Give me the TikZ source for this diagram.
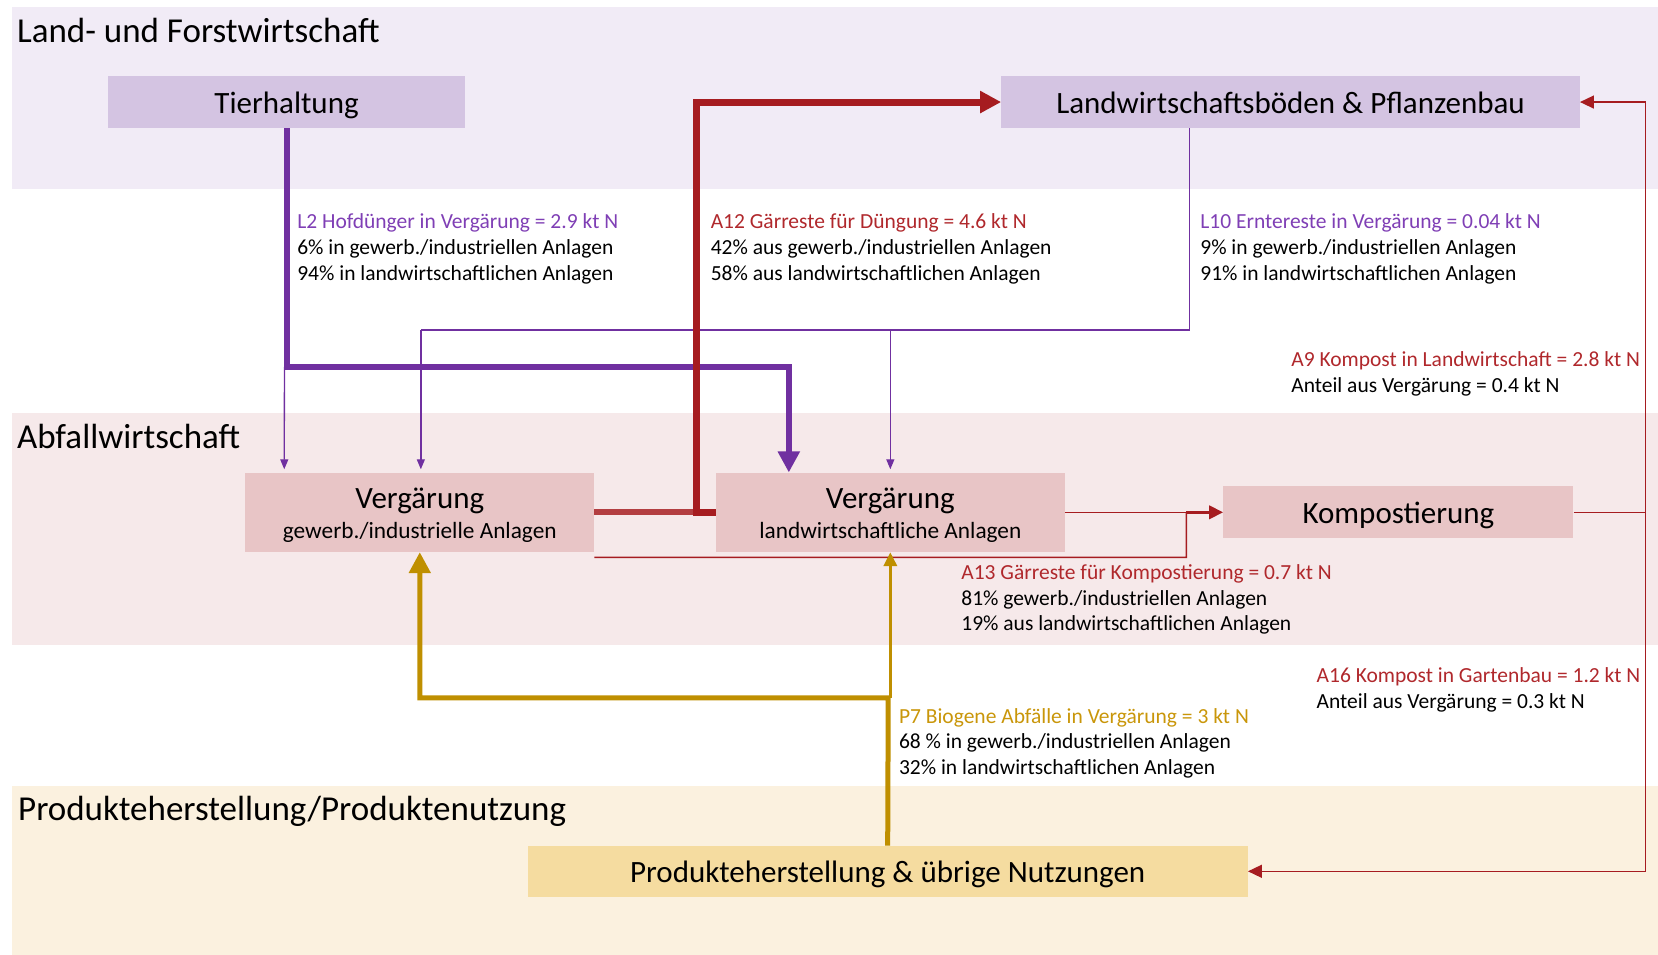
\documentclass[tikz,border=0pt]{standalone}
\usepackage{fontspec}
\setmainfont{Carlito}
\usetikzlibrary{arrows.meta}
\definecolor{bandA}{HTML}{F1EBF6}
\definecolor{bandB}{HTML}{F6E9EA}
\definecolor{bandC}{HTML}{FBF1DF}
\definecolor{boxA}{HTML}{D4C4E2}
\definecolor{boxB}{HTML}{E8C5C6}
\definecolor{boxC}{HTML}{F5DCA0}
\definecolor{purp}{HTML}{7030A0}
\definecolor{purptxt}{HTML}{7F3FB5}
\definecolor{redd}{HTML}{A61C20}
\definecolor{redtxt}{HTML}{B0282C}
\definecolor{gold}{HTML}{BF8F00}
\definecolor{goldtxt}{HTML}{C9960A}
\newcommand{\titlefnt}{\fontsize{35}{42}\selectfont}
\newcommand{\boxfnt}{\fontsize{31}{37}\selectfont}
\newcommand{\subfnt}{\fontsize{23.3}{28}\selectfont}
\newcommand{\lblfnt}{\fontsize{21.5}{25.7}\selectfont}
\begin{document}
\begin{tikzpicture}[x=1.0574pt,y=-1.0574pt,
  bandtitle/.style={anchor=base west,inner sep=0pt,font=\titlefnt},
  boxbase/.style={inner sep=0pt,font=\boxfnt,text=black},
  boxcentred/.style={text height=22pt,text depth=0pt},
  boxa/.style={boxbase,boxcentred,fill=boxA,minimum height=51.8pt},
  boxb/.style={boxbase,fill=boxB},
  boxc/.style={boxbase,boxcentred,fill=boxC,minimum height=50.8pt},
  lbl/.style={anchor=base west,inner sep=0pt,align=left,font=\lblfnt},
  bigtip/.style={-{Triangle[length=21pt,width=21pt]}},
  midtip/.style={-{Triangle[length=14pt,width=13pt]}},
  smalltip/.style={-{Triangle[length=10pt,width=8pt]}},
  purthick/.style={draw=purp,line width=6pt},
  purthin/.style={draw=purp,line width=1.3pt},
  redthick/.style={draw=redd,line width=7pt},
  redlite/.style={draw=redd!85!white,line width=6pt},
  redthin/.style={draw=redd,line width=1.5pt},
  redmed/.style={draw=redd,line width=3.5pt},
  goldthick/.style={draw=gold,line width=5pt},
  goldmed/.style={draw=gold,line width=3.5pt}
]
\useasboundingbox (0,0) rectangle (1568,903);
% bands
\fill[bandA] (11,7) rectangle (1568,179);
\fill[bandB] (11,391) rectangle (1568,610);
\fill[bandC] (11,743) rectangle (1568,903);
\node[bandtitle] (t1) at (16,40) {Land- und Forstwirtschaft};
\node[bandtitle] (t2) at (16,424) {Abfallwirtschaft};
\node[bandtitle] (t3) at (17,776) {Produkteherstellung/Produktenutzung};
% boxes
\node[boxa,minimum width=357.4pt] (tier) at (271,96.5) {Tierhaltung};
\node[boxa,minimum width=578.4pt] (lwb) at (1220.5,96.5) {Landwirtschaftsböden \& Pflanzenbau};
\node[boxb,minimum width=348.9pt,minimum height=79.3pt] (vg) at (397,484.5) {};
\node[boxbase,anchor=base] (vgt) at (397,481) {Vergärung};
\node[boxbase,anchor=base,font=\subfnt] (vgs) at (397,509) {gewerb./industrielle Anlagen};
\node[boxb,minimum width=348.9pt,minimum height=79.3pt] (vl) at (842,484.5) {};
\node[boxbase,anchor=base] (vlt) at (842,481) {Vergärung};
\node[boxbase,anchor=base,font=\subfnt] (vls) at (842,509) {landwirtschaftliche Anlagen};
\node[boxb,boxcentred,minimum width=350pt,minimum height=51.8pt] (komp) at (1322.5,484.5) {Kompostierung};
\node[boxc,minimum width=720.1pt] (prod) at (839.5,824) {Produkteherstellung \& übrige Nutzungen};
% junction coordinates
\coordinate (l2j) at (271,347);
\coordinate (l2k) at (746,347);
\coordinate (l2g) at (269,347);
\path (vl.north) ++(-96,0) coordinate (vlL2);
\path (vg.north west) ++(37,-3) coordinate (vgL2);
\path (lwb.south) ++(-95.5,0) coordinate (l10s);
\coordinate (l10j) at (1125,312);
\coordinate (l10a) at (398,312);
\coordinate (l10b) at (842,312);
\path (vg.north) ++(1,-3) coordinate (vgL10);
\path (vl.north) ++(0,-3) coordinate (vlL10);
\coordinate (a12j) at (659,484.5);
\coordinate (a12t) at (659,96.5);
\coordinate (a13j) at (1122,484.5);
\coordinate (a13b) at (1122,527);
\coordinate (ak) at (1556,484.5);
\coordinate (aku) at (1556,96.5);
\coordinate (akd) at (1556,824);
\coordinate (p7j) at (840,660);
\coordinate (p7l) at (397,660);
\coordinate (p7r) at (842,660);
% L2
\draw[purthin,smalltip] (l2g) -- (vgL2);
\draw[purthick,bigtip] (tier.south) -- (l2j) -- (l2k) -- (vlL2);
% L10
\draw[purthin] (lwb.south -| l10s) -- (l10j) -- (l10a);
\draw[purthin,smalltip] (l10a) -- (vgL10);
\draw[purthin,smalltip] (l10b) -- (vlL10);
% A12
\draw[redlite] (vg.east) -- (a12j);
\draw[redthick,bigtip] (vl.west) -- (a12j) -- (a12t) -- (lwb.west);
% A13
\draw[redthin] (vl.east) -- (a13j);
\draw[redthin] (vg.south east) ++(0,5) -- (a13b) -- (a13j);
\draw[redmed,midtip] (a13j) -- (komp.west);
% A9 / A16
\draw[redthin] (komp.east) -- (ak);
\draw[redthin,midtip] (ak) -- (aku) -- (lwb.east);
\draw[redthin,midtip] (ak) -- (akd) -- (prod.east);
% P7
\draw[goldthick,bigtip] (prod.north) -- (p7j) -- (p7l) -- (vg.south);
\draw[goldmed,midtip] (p7r) -- (vl.south);
% labels (anchor = baseline of the last line)
\node[lbl] (lL2) at (281,265) {\textcolor{purptxt}{L2 Hofdünger in Vergärung = 2.9 kt N}\\6\% in gewerb./industriellen Anlagen\\94\% in landwirtschaftlichen Anlagen};
\node[lbl] (lA12) at (672,265) {\textcolor{redtxt}{A12 Gärreste für Düngung = 4.6 kt N}\\42\% aus gewerb./industriellen Anlagen\\58\% aus landwirtschaftlichen Anlagen};
\node[lbl] (lL10) at (1135,265) {\textcolor{purptxt}{L10 Erntereste in Vergärung = 0.04 kt N}\\9\% in gewerb./industriellen Anlagen\\91\% in landwirtschaftlichen Anlagen};
\node[lbl] (lA9) at (1221,371) {\textcolor{redtxt}{A9 Kompost in Landwirtschaft = 2.8 kt N}\\Anteil aus Vergärung = 0.4 kt N};
\node[lbl] (lA13) at (909,596.5) {\textcolor{redtxt}{A13 Gärreste für Kompostierung = 0.7 kt N}\\81\% gewerb./industriellen Anlagen\\19\% aus landwirtschaftlichen Anlagen};
\node[lbl] (lA16) at (1245,670) {\textcolor{redtxt}{A16 Kompost in Gartenbau = 1.2 kt N}\\Anteil aus Vergärung = 0.3 kt N};
\node[lbl] (lP7) at (850,732.5) {\textcolor{goldtxt}{P7 Biogene Abfälle in Vergärung = 3 kt N}\\68 \% in gewerb./industriellen Anlagen\\32\% in landwirtschaftlichen Anlagen};
\end{tikzpicture}
\end{document}
